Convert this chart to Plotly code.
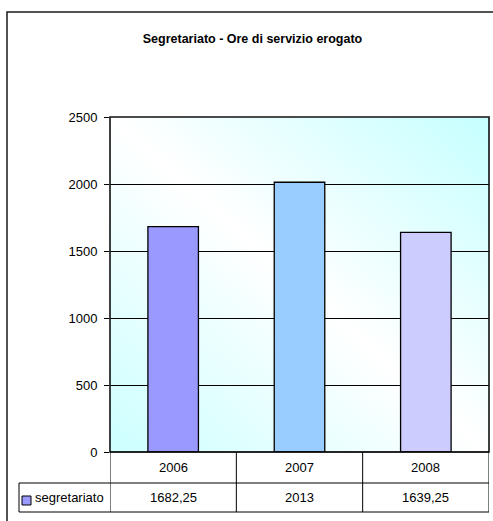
import base64
import plotly.graph_objects as go

# ---- data ----
categories = ["2006", "2007", "2008"]
values = [1682.25, 2013, 1639.25]
series_name = "segretariato"
bar_colors = ["#9999FF", "#99CCFF", "#CCCCFF"]
y_ticks = [0, 500, 1000, 1500, 2000, 2500]
title_text = "Segretariato - Ore di servizio erogato"

W, H = 493, 521


def X(px):
    return px / W


def Y(py):
    return 1 - py / H


# plot area in pixels
PL, PR, PT, PB = 110, 489, 117, 452
ROW1_B = 483
ROW2_B = 512
LEG_L = 19

svg = (
    '<svg xmlns="http://www.w3.org/2000/svg" width="100" height="100" '
    'viewBox="0 0 100 100" preserveAspectRatio="none">'
    '<defs><linearGradient id="g" x1="0" y1="1" x2="1" y2="0">'
    '<stop offset="0" stop-color="#CCFFFF"/>'
    '<stop offset="0.5" stop-color="#FFFFFF"/>'
    '<stop offset="1" stop-color="#C6FFFF"/>'
    '</linearGradient></defs>'
    '<rect x="0" y="0" width="100" height="100" fill="url(#g)"/></svg>'
)
svg_uri = "data:image/svg+xml;base64," + base64.b64encode(svg.encode()).decode()

fig = go.Figure()
fig.add_trace(go.Bar(
    x=categories,
    y=values,
    name=series_name,
    marker=dict(color=bar_colors, line=dict(color="#000000", width=1.3)),
    width=0.4,
    showlegend=False,
    hoverinfo="x+y",
))

font_main = "Liberation Sans, Arial, sans-serif"

fig.update_layout(
    width=W,
    height=H,
    autosize=False,
    margin=dict(l=0, r=0, t=0, b=0, pad=0),
    paper_bgcolor="#FFFFFF",
    plot_bgcolor="rgba(0,0,0,0)",
    font=dict(family=font_main, size=13, color="#000000"),
    title=dict(
        text="<b>" + title_text + "</b>",
        x=X(252.5), xanchor="center", xref="paper",
        y=Y(39), yanchor="middle", yref="paper",
        font=dict(family=font_main, size=12.5, color="#000000"),
    ),
    xaxis=dict(
        domain=[X(PL), X(PR)],
        range=[-0.5, 2.5],
        showticklabels=False,
        showgrid=False,
        zeroline=False,
        showline=False,
        ticks="",
        fixedrange=True,
    ),
    yaxis=dict(
        domain=[Y(PB), Y(PT)],
        range=[0, 2500],
        tickvals=y_ticks,
        ticktext=[str(v) for v in y_ticks],
        ticks="outside",
        ticklen=5,
        tickcolor="#000000",
        tickwidth=1,
        showgrid=True,
        gridcolor="#000000",
        gridwidth=1,
        zeroline=False,
        showline=False,
        ticklabelstandoff=4,
        tickfont=dict(family=font_main, size=13, color="#000000"),
        fixedrange=True,
        automargin=False,
    ),
    images=[dict(
        source=svg_uri,
        xref="paper", yref="paper",
        x=X(PL), y=Y(PT),
        sizex=X(PR) - X(PL), sizey=Y(PT) - Y(PB),
        xanchor="left", yanchor="top",
        sizing="stretch",
        layer="below",
    )],
)

shapes = []
line_c = "#000000"
# outer chart border (left and top visible)
shapes.append(dict(type="rect", xref="paper", yref="paper",
                   x0=X(7), x1=X(W + 10), y0=Y(H + 10), y1=Y(12),
                   line=dict(color="#1a1a1a", width=1.5), fillcolor="rgba(0,0,0,0)"))
# plot area border
shapes.append(dict(type="rect", xref="paper", yref="paper",
                   x0=X(PL), x1=X(PR), y0=Y(PB), y1=Y(PT),
                   line=dict(color="#111111", width=1.6), fillcolor="rgba(0,0,0,0)", layer="above"))
# table: horizontal lines
shapes.append(dict(type="line", xref="paper", yref="paper",
                   x0=X(PL), x1=X(PR), y0=Y(PB), y1=Y(PB), line=dict(color=line_c, width=1.2)))
shapes.append(dict(type="line", xref="paper", yref="paper",
                   x0=X(LEG_L), x1=X(PR), y0=Y(ROW1_B), y1=Y(ROW1_B), line=dict(color=line_c, width=1)))
shapes.append(dict(type="line", xref="paper", yref="paper",
                   x0=X(LEG_L), x1=X(PR), y0=Y(ROW2_B), y1=Y(ROW2_B), line=dict(color=line_c, width=1)))
# table: vertical lines at category boundaries
for b in [-0.5, 0.5, 1.5, 2.5]:
    shapes.append(dict(type="line", xref="x", yref="paper",
                       x0=b, x1=b, y0=Y(ROW2_B), y1=Y(PB), line=dict(color=line_c, width=1)))
# legend cell left border
shapes.append(dict(type="line", xref="paper", yref="paper",
                   x0=X(LEG_L), x1=X(LEG_L), y0=Y(ROW2_B), y1=Y(ROW1_B), line=dict(color=line_c, width=1)))
# legend key square
shapes.append(dict(type="rect", xref="paper", yref="paper",
                   x0=X(22), x1=X(31), y0=Y(505), y1=Y(496),
                   fillcolor=bar_colors[0], line=dict(color="#000000", width=1)))
fig.update_layout(shapes=shapes)


def fmt(v):
    s = f"{v:g}"
    return s.replace(".", ",")


ann = []
for i, c in enumerate(categories):
    ann.append(dict(x=i, xref="x", y=Y((PB + ROW1_B) / 2), yref="paper",
                    text=c, showarrow=False, xanchor="center", yanchor="middle",
                    font=dict(family=font_main, size=13, color="#000000")))
    ann.append(dict(x=i, xref="x", y=Y((ROW1_B + ROW2_B) / 2), yref="paper",
                    text=fmt(values[i]), showarrow=False, xanchor="center", yanchor="middle",
                    font=dict(family=font_main, size=13, color="#000000")))
ann.append(dict(x=X(33), xref="paper", y=Y((ROW1_B + ROW2_B) / 2), yref="paper",
                text=series_name, showarrow=False, xanchor="left", yanchor="middle",
                font=dict(family=font_main, size=13, color="#000000")))
fig.update_layout(annotations=ann)

post_js = (
    "document.documentElement.style.margin='0';"
    "document.documentElement.style.padding='0';"
    "document.body.style.margin='0';"
    "document.body.style.padding='0';"
    "document.body.style.overflow='hidden';"
)

fig.write_html("out.html", config={"responsive": False, "displayModeBar": False},
               post_script=post_js)
